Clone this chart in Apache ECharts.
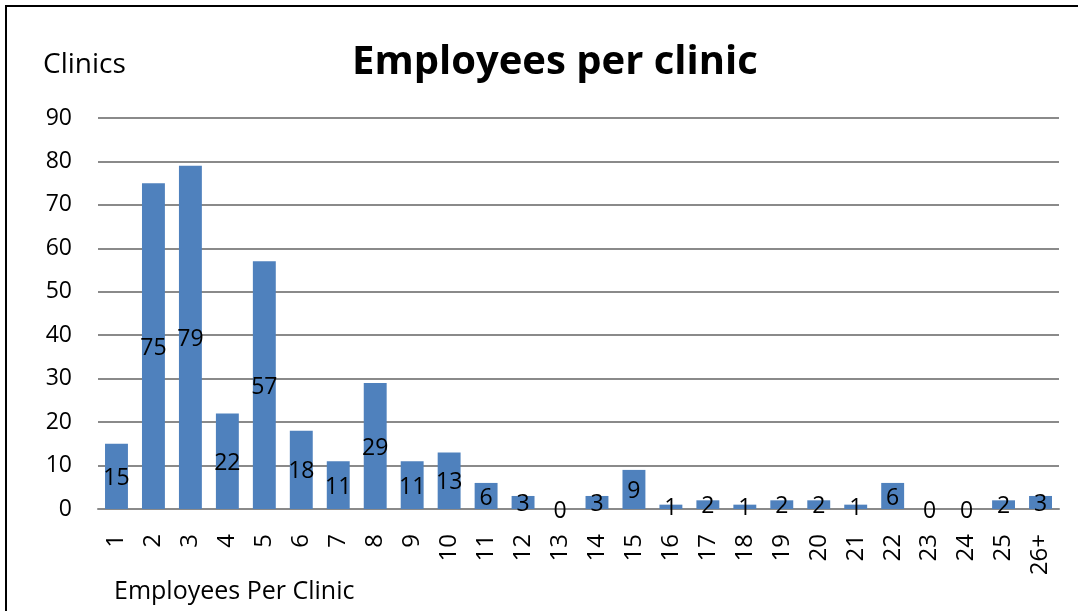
<!DOCTYPE html>
<html><head><meta charset="utf-8">
<script src="https://cdn.jsdelivr.net/npm/echarts@6/dist/echarts.min.js"></script>
<style>html,body{margin:0;padding:0;background:#fff}#c{width:1078px;height:611px}</style>
</head><body><div id="c"></div>
<script>
const titleText = 'Employees per clinic';
const yAxisTitle = 'Clinics';
const xAxisTitle = 'Employees Per Clinic';
const categories = ['1','2','3','4','5','6','7','8','9','10','11','12','13','14','15','16','17','18','19','20','21','22','23','24','25','26+'];
const clinics = [15,75,79,22,57,18,11,29,11,13,6,3,0,3,9,1,2,1,2,2,1,6,0,0,2,3];

const FONT = 'Open Sans';
const chart = echarts.init(document.getElementById('c'), null, {renderer:'canvas'});
chart.setOption({
  animation: false,
  backgroundColor: '#fff',
  textStyle: {fontFamily: FONT},
  graphic: [
    {type:'rect', shape:{x:6, y:6, width:1200, height:800}, style:{fill:'none', stroke:'#000', lineWidth:2}, z:100},
    {type:'text', left:43, top:51, style:{text:yAxisTitle, font:'28px "Open Sans"', fill:'#000'}},
    {type:'text', left:114, top:579, style:{text:xAxisTitle, font:'25px "Open Sans"', fill:'#000'}},
    {type:'text', left:352, top:43, style:{text:titleText, font:'bold 40px "Open Sans"', fill:'#000'}}
  ],
  grid: {left:98, right:19, top:118, bottom:102, containLabel:false},
  xAxis: {
    type:'category', data: categories,
    axisLine:{show:true, lineStyle:{color:'#8a8a8a', width:2}},
    axisTick:{show:false},
    axisLabel:{rotate:90, margin:25, fontSize:24, color:'#000', fontFamily:FONT, interval:0}
  },
  yAxis: {
    type:'value', min:0, max:90, interval:10,
    axisLine:{show:false}, axisTick:{show:false},
    splitLine:{lineStyle:{color:'#8a8a8a', width:2}},
    axisLabel:{margin:26, fontSize:23, color:'#000', fontFamily:FONT}
  },
  series: [{
    type:'bar', data: clinics, barWidth:'62%',
    itemStyle:{color:'#4F81BD'},
    label:{show:true, position:'inside', color:'#000', fontSize:23, fontFamily:FONT, offset:[0,2]}
  }]
});
</script></body></html>
